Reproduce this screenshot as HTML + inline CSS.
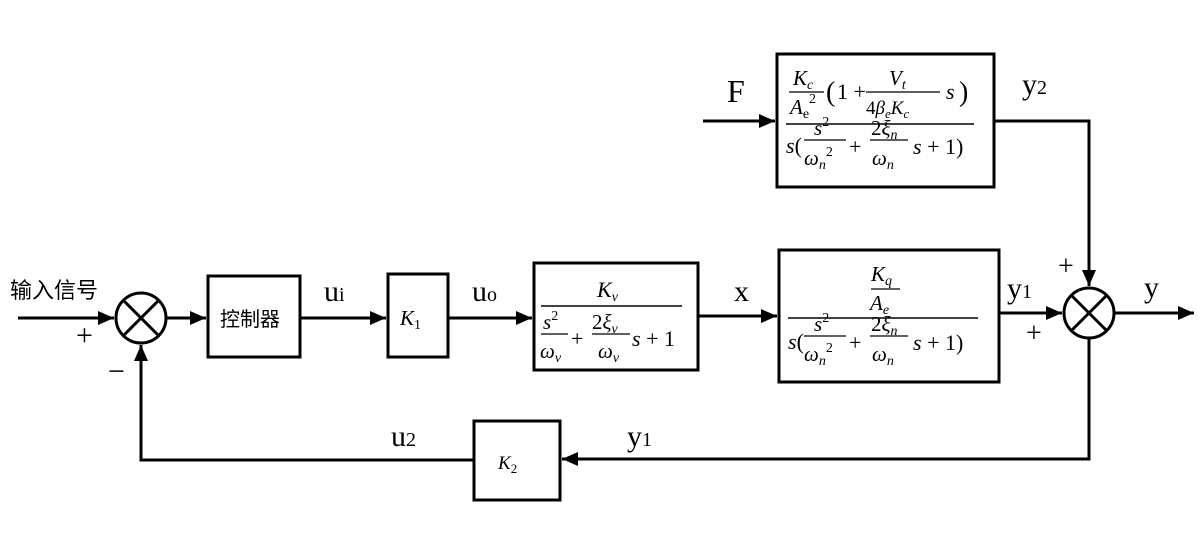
<!DOCTYPE html>
<html><head><meta charset="utf-8"><style>
html,body{margin:0;padding:0;background:#fff;}
svg{display:block}
.m{font-family:"Liberation Serif",serif;font-style:italic;}
.r{font-family:"Liberation Serif",serif;}
.cj{font-family:"Liberation Sans","Noto Sans CJK SC",sans-serif;}
</style></head><body>
<svg width="1201" height="549" viewBox="0 0 1201 549" xmlns="http://www.w3.org/2000/svg">
<defs>
<marker id="b" markerWidth="16" markerHeight="14" refX="16" refY="7" orient="auto" markerUnits="userSpaceOnUse"><path d="M0,0 L16,7 L0,14 z" fill="#000"/></marker></defs>
<g stroke="#000" stroke-width="3" fill="none">
<rect x="208" y="276" width="92" height="81"/>
<rect x="388" y="274" width="60" height="83"/>
<rect x="534" y="263" width="164" height="107"/>
<rect x="779" y="250" width="220" height="132"/>
<rect x="777" y="54" width="217" height="133"/>
<rect x="474" y="421" width="86" height="79"/>
<circle cx="141" cy="318" r="25"/>
<line x1="123" y1="300" x2="159" y2="336"/><line x1="159" y1="300" x2="123" y2="336"/>
<circle cx="1089" cy="313" r="25"/>
<line x1="1071" y1="295" x2="1107" y2="331"/><line x1="1107" y1="295" x2="1071" y2="331"/>
<line x1="18" y1="318" x2="114" y2="318" marker-end="url(#b)"/>
<line x1="166" y1="318" x2="206" y2="318" marker-end="url(#b)"/>
<line x1="300" y1="318" x2="386" y2="318" marker-end="url(#b)"/>
<line x1="448" y1="318" x2="532" y2="318" marker-end="url(#b)"/>
<line x1="698" y1="316" x2="777" y2="316" marker-end="url(#b)"/>
<line x1="999" y1="313" x2="1062" y2="313" marker-end="url(#b)"/>
<line x1="1114" y1="313" x2="1194" y2="313" marker-end="url(#b)"/>
<line x1="703" y1="121" x2="775" y2="121" marker-end="url(#b)"/>
<polyline points="994,121 1089,121 1089,286" marker-end="url(#b)"/>
<polyline points="1089,338 1089,459 562,459" marker-end="url(#b)"/>
<polyline points="474,460 141,460 141,345" marker-end="url(#b)"/>
<line x1="541" y1="306" x2="682" y2="306" stroke-width="1.5"/>
<line x1="788" y1="318" x2="978" y2="318" stroke-width="1.5"/>
<line x1="786" y1="124" x2="974" y2="124" stroke-width="1.5"/>
<line x1="871" y1="289" x2="900" y2="289" stroke-width="1.2"/>
<line x1="789" y1="92" x2="824" y2="92" stroke-width="1.2"/>
<line x1="866" y1="92" x2="940" y2="92" stroke-width="1.2"/>
<line x1="541" y1="334" x2="568" y2="334" stroke-width="1.2"/>
<line x1="592" y1="334" x2="630" y2="334" stroke-width="1.2"/>
<line x1="804" y1="140" x2="846" y2="140" stroke-width="1.2"/>
<line x1="870" y1="140" x2="908" y2="140" stroke-width="1.2"/>
<line x1="804" y1="336" x2="846" y2="336" stroke-width="1.2"/>
<line x1="870" y1="336" x2="908" y2="336" stroke-width="1.2"/>
</g>
<text x="10" y="298" class="cj" font-size="22">输入信号</text>
<text x="76" y="345" class="r" font-size="30">+</text>
<text x="108" y="381" class="r" font-size="30">−</text>
<text x="220" y="326" class="cj" font-size="20">控制器</text>
<text x="324" y="301" class="r" font-size="30">u<tspan font-size="20">i</tspan></text>
<text x="472" y="301" class="r" font-size="30">u<tspan font-size="20">o</tspan></text>
<text x="734" y="301" class="r" font-size="30">x</text>
<text x="1007" y="298" class="r" font-size="30">y<tspan font-size="20">1</tspan></text>
<text x="1144" y="297" class="r" font-size="30">y</text>
<text x="1058" y="275" class="r" font-size="28">+</text>
<text x="1026" y="342" class="r" font-size="28">+</text>
<text x="1022" y="94" class="r" font-size="30">y<tspan font-size="20">2</tspan></text>
<text x="727" y="102" class="r" font-size="32">F</text>
<text x="391" y="446" class="r" font-size="30">u<tspan font-size="20">2</tspan></text>
<text x="627" y="446" class="r" font-size="30">y<tspan font-size="20">1</tspan></text>
<text x="400" y="325" class="m" font-size="21">K<tspan font-size="14" font-style="normal" dy="4">1</tspan></text>
<text x="498" y="469" class="m" font-size="19">K<tspan font-size="13" font-style="normal" dy="4">2</tspan></text>
<text x="597" y="297" class="m" font-size="22">K<tspan font-size="14" dy="4">v</tspan></text>
<text x="543" y="329" class="m" font-size="21">s<tspan font-size="14" font-style="normal" dy="-9">2</tspan></text>
<text x="540" y="358" class="m" font-size="21">ω<tspan font-size="14" dy="4">v</tspan></text>
<text x="571" y="346" class="r" font-size="22">+</text>
<text x="592" y="329" class="r" font-size="21">2<tspan font-style="italic">ξ</tspan><tspan font-size="14" font-style="italic" dy="4">v</tspan></text>
<text x="598" y="358" class="m" font-size="21">ω<tspan font-size="14" dy="4">v</tspan></text>
<text x="632" y="346" class="m" font-size="22">s <tspan font-style="normal">+ 1</tspan></text>
<text x="871" y="281" class="m" font-size="21">K<tspan font-size="14" dy="4">q</tspan></text>
<text x="870" y="310" class="m" font-size="21">A<tspan font-size="14" dy="4">e</tspan></text>
<text x="788" y="349" class="m" font-size="22">s<tspan font-style="normal">(</tspan></text>
<text x="814" y="331" class="m" font-size="21">s<tspan font-size="14" font-style="normal" dy="-9">2</tspan></text>
<text x="804" y="361" class="m" font-size="21">ω<tspan font-size="14" dy="4">n</tspan><tspan font-size="14" font-style="normal" dy="-13">2</tspan></text>
<text x="849" y="350" class="r" font-size="22">+</text>
<text x="871" y="331" class="r" font-size="21">2<tspan font-style="italic">ξ</tspan><tspan font-size="14" font-style="italic" dy="4">n</tspan></text>
<text x="872" y="361" class="m" font-size="21">ω<tspan font-size="14" dy="4">n</tspan></text>
<text x="913" y="350" class="m" font-size="22">s <tspan font-style="normal">+ 1)</tspan></text>
<text x="793" y="85" class="m" font-size="21">K<tspan font-size="14" dy="4">c</tspan></text>
<text x="790" y="114" class="m" font-size="21">A<tspan font-size="14" font-style="normal" dy="4">e</tspan><tspan font-size="14" font-style="normal" dy="-15">2</tspan></text>
<text x="826" y="101" class="r" font-size="28">(</text>
<text x="837" y="99" class="r" font-size="22">1 +</text>
<text x="889" y="85" class="m" font-size="21">V<tspan font-size="14" dy="4">t</tspan></text>
<text x="866" y="114" class="r" font-size="19">4<tspan font-style="italic">β</tspan><tspan font-size="13" font-style="italic" dy="4">e</tspan><tspan font-style="italic" dy="-4">K</tspan><tspan font-size="13" font-style="italic" dy="4">c</tspan></text>
<text x="946" y="99" class="m" font-size="22">s</text>
<text x="959" y="101" class="r" font-size="28">)</text>
<text x="786" y="153" class="m" font-size="22">s<tspan font-style="normal">(</tspan></text>
<text x="814" y="135" class="m" font-size="21">s<tspan font-size="14" font-style="normal" dy="-9">2</tspan></text>
<text x="804" y="165" class="m" font-size="21">ω<tspan font-size="14" dy="4">n</tspan><tspan font-size="14" font-style="normal" dy="-13">2</tspan></text>
<text x="849" y="154" class="r" font-size="22">+</text>
<text x="871" y="135" class="r" font-size="21">2<tspan font-style="italic">ξ</tspan><tspan font-size="14" font-style="italic" dy="4">n</tspan></text>
<text x="872" y="165" class="m" font-size="21">ω<tspan font-size="14" dy="4">n</tspan></text>
<text x="913" y="154" class="m" font-size="22">s <tspan font-style="normal">+ 1)</tspan></text>
</svg>
</body></html>
